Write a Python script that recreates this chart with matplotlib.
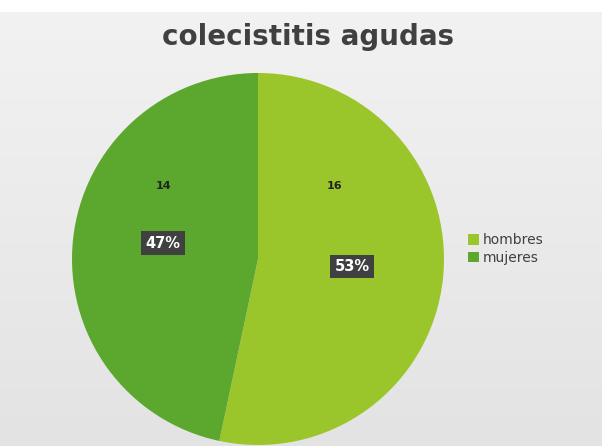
import numpy as np
import matplotlib
matplotlib.use("Agg")
import matplotlib.pyplot as plt

# datos
categorias = ["hombres", "mujeres"]
valores = [16, 14]
colores = ["#9BC62B", "#5CA72D"]
titulo = "colecistitis agudas"

W, H = 602, 446
fig = plt.figure(figsize=(W / 100, H / 100), dpi=100)
fig.patch.set_facecolor("white")

# fondo gris con un ligero degradado
bg = fig.add_axes([0, 0, 1, (H - 12) / H])
grad = np.linspace(0, 1, 256).reshape(-1, 1)
bg.imshow(grad, aspect="auto", cmap=matplotlib.colors.LinearSegmentedColormap.from_list(
    "g", ["#E3E3E3", "#F2F2F2"]), extent=[0, 1, 0, 1], origin="lower")
bg.axis("off")

# titulo
fig.text(308 / W, 1 - 37 / H, titulo, ha="center", va="center", fontsize=20,
         color="#404040", fontweight="bold", family="DejaVu Sans")

# pastel
cx, cy, r = 258, 259, 186
ax = fig.add_axes([(cx - r) / W, (H - cy - r) / H, 2 * r / W, 2 * r / H])
wedges, _ = ax.pie(valores, colors=colores, startangle=90, counterclock=False,
                   wedgeprops=dict(linewidth=0))
ax.set_xlim(-1, 1)
ax.set_ylim(-1, 1)
ax.set_aspect("equal")
ax.axis("off")

total = sum(valores)
pos_valor = [(0.41, 0.39), (-0.51, 0.39)]
pos_pct = [(0.505, -0.04), (-0.51, 0.085)]
for v, pv, pp in zip(valores, pos_valor, pos_pct):
    ax.text(pv[0], pv[1], str(v), ha="center", va="center", fontsize=8,
            fontweight="bold", color="#222222")
    ax.text(pp[0], pp[1], f"{round(100 * v / total)}%", ha="center", va="center",
            fontsize=10.5, fontweight="bold", color="white",
            bbox=dict(boxstyle="square,pad=0.3", fc="#404040", ec="none"))

# leyenda
fig.legend(wedges, categorias, loc="center left",
           bbox_to_anchor=(455 / W, 1 - 249 / H), frameon=False,
           fontsize=10, handlelength=0.8, handleheight=0.8, handletextpad=0.3,
           labelspacing=0.25, labelcolor="#404040")

fig.savefig("out.png", dpi=100)
